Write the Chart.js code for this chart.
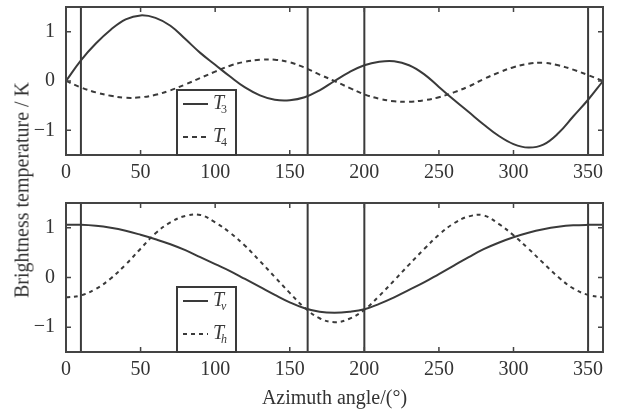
<!DOCTYPE html>
<html>
<head>
<meta charset="utf-8">
<script src="https://cdn.jsdelivr.net/npm/chart.js@4.4.1/dist/chart.umd.min.js"></script>
<style>
  html, body { margin: 0; padding: 0; background: #fff; }
  #wrap { position: relative; width: 618px; height: 415px; overflow: hidden; }
  canvas { position: absolute; left: 0; }
  #topChart { top: 0; }
  #bottomChart { top: 198px; }
  .ytitle {
    position: absolute; left: 22px; top: 190px;
    transform: translate(-50%, -50%) rotate(-90deg);
    font: 20px "Liberation Serif", serif; color: #333; white-space: nowrap;
  }
</style>
</head>
<body>
<div id="wrap">
  <canvas id="topChart" width="618" height="200"></canvas>
  <canvas id="bottomChart" width="618" height="217"></canvas>
  <div class="ytitle">Brightness temperature / K</div>
</div>
<script>
// azimuth angles (deg) used for all series
const angles = [0, 10, 20, 30, 40, 50, 60, 70, 80, 90, 100, 110, 120, 130, 140, 150, 160, 170, 180,
  190, 200, 210, 220, 230, 240, 250, 260, 270, 280, 290, 300, 310, 320, 330, 340, 350, 360];

// top panel
const t3 = [0, 0.42, 0.76, 1.04, 1.25, 1.33, 1.28, 1.12, 0.85, 0.57, 0.33, 0.09, -0.13, -0.29, -0.38, -0.39,
  -0.33, -0.19, 0.0, 0.18, 0.32, 0.39, 0.40, 0.32, 0.14, -0.12, -0.38, -0.63, -0.88, -1.11, -1.28, -1.35,
  -1.29, -1.06, -0.72, -0.38, 0];
const t4 = [0, -0.13, -0.23, -0.30, -0.34, -0.33, -0.28, -0.19, -0.07, 0.06, 0.19, 0.31, 0.39, 0.43, 0.43,
  0.38, 0.27, 0.13, 0.0, -0.14, -0.27, -0.36, -0.41, -0.42, -0.39, -0.33, -0.23, -0.11, 0.04, 0.17, 0.28,
  0.35, 0.37, 0.32, 0.23, 0.12, 0.0];

// bottom panel
const tv = [1.06, 1.06, 1.04, 1.0, 0.94, 0.86, 0.77, 0.67, 0.55, 0.41, 0.27, 0.13, -0.03, -0.19, -0.35,
  -0.50, -0.62, -0.69, -0.71, -0.69, -0.64, -0.53, -0.40, -0.25, -0.10, 0.07, 0.24, 0.41, 0.57, 0.70,
  0.81, 0.90, 0.97, 1.02, 1.05, 1.06, 1.06];
const th = [-0.40, -0.36, -0.23, -0.02, 0.26, 0.58, 0.89, 1.11, 1.24, 1.26, 1.11, 0.90, 0.64, 0.33, 0.01,
  -0.31, -0.61, -0.82, -0.90, -0.83, -0.65, -0.37, -0.06, 0.26, 0.57, 0.86, 1.09, 1.23, 1.25, 1.08, 0.85,
  0.58, 0.29, 0.01, -0.22, -0.35, -0.40];

// vertical reference lines
const markerAngles = [10, 162, 200, 350];

const xTicks = [0, 50, 100, 150, 200, 250, 300, 350];
const yTicks = [-1, 0, 1];
const xRange = [0, 360];
const yRange = [-1.5, 1.5];

const ink = '#3a3a3a';
const serif = '"Liberation Serif", "Times New Roman", serif';

function points(vals) {
  return vals.map((v, i) => ({ x: angles[i], y: v }));
}

// frame, inward ticks (MATLAB style) and boxed legend
const framePlugin = {
  id: 'frame',
  afterDatasetsDraw(chart, args, opts) {
    const { ctx, chartArea: a, scales: { x, y } } = chart;
    ctx.save();
    ctx.strokeStyle = '#444';
    ctx.lineWidth = 1.5;
    const len = 5;
    ctx.beginPath();
    xTicks.forEach(v => {
      const px = x.getPixelForValue(v);
      ctx.moveTo(px, a.bottom); ctx.lineTo(px, a.bottom - len);
      ctx.moveTo(px, a.top); ctx.lineTo(px, a.top + len);
    });
    yTicks.forEach(v => {
      const py = y.getPixelForValue(v);
      ctx.moveTo(a.left, py); ctx.lineTo(a.left + len, py);
      ctx.moveTo(a.right, py); ctx.lineTo(a.right - len, py);
    });
    ctx.stroke();
    ctx.lineWidth = 2;
    ctx.strokeRect(a.left, a.top, a.right - a.left, a.bottom - a.top);

    // legend box
    const bx = a.left + 111, bw = 59, bh = 65, by = a.bottom - bh;
    ctx.fillStyle = '#fff';
    ctx.fillRect(bx, by, bw, bh);
    ctx.strokeStyle = ink;
    ctx.strokeRect(bx, by, bw, bh);
    (opts.entries || []).forEach((e, i) => {
      const ly = by + 14 + i * 33;
      ctx.beginPath();
      ctx.setLineDash(e.dash);
      ctx.lineWidth = 2;
      ctx.moveTo(bx + 6, ly); ctx.lineTo(bx + 31, ly);
      ctx.stroke();
      ctx.setLineDash([]);
      ctx.fillStyle = ink;
      ctx.textBaseline = 'middle';
      ctx.textAlign = 'left';
      ctx.font = 'italic 20px ' + serif;
      ctx.fillText(e.name, bx + 36, ly);
      const w = ctx.measureText(e.name).width;
      ctx.font = (e.subItalic ? 'italic ' : '') + '12px ' + serif;
      ctx.fillText(e.sub, bx + 36 + w - 3, ly + 6);
    });
    ctx.restore();
  }
};

function noEdgePadding(s) {
  s.paddingTop = 0; s.paddingBottom = 0; s.paddingLeft = 0; s.paddingRight = 0;
}

function makeChart(id, series, entries, opt) {
  const datasets = [];
  markerAngles.forEach(m => {
    datasets.push({
      data: [{ x: m, y: yRange[0] }, { x: m, y: yRange[1] }],
      borderColor: ink, borderWidth: 2, pointRadius: 0, tension: 0
    });
  });
  series.forEach(s => {
    datasets.push({
      data: points(s.values),
      borderColor: ink, borderWidth: 2, borderDash: s.dash,
      pointRadius: 0, tension: 0.4, fill: false
    });
  });

  return new Chart(document.getElementById(id), {
    type: 'line',
    data: { datasets },
    plugins: [framePlugin],
    options: {
      responsive: false,
      animation: false,
      devicePixelRatio: 1,
      layout: { padding: { left: 0, right: 15, top: opt.padTop, bottom: 0 } },
      plugins: {
        legend: { display: false },
        tooltip: { enabled: false },
        frame: { entries }
      },
      scales: {
        x: {
          type: 'linear', min: xRange[0], max: xRange[1],
          afterBuildTicks: s => { s.ticks = xTicks.map(v => ({ value: v })); },
          afterFit: s => { s.height = opt.xHeight; noEdgePadding(s); },
          grid: { display: false, drawTicks: false },
          border: { display: false },
          ticks: { color: '#333', font: { family: serif, size: 20 }, padding: 6, maxRotation: 0 },
          title: {
            display: !!opt.xTitle, text: opt.xTitle || '', color: '#333',
            font: { family: serif, size: 20 }, padding: { top: 2, bottom: 4 }
          }
        },
        y: {
          min: yRange[0], max: yRange[1],
          afterBuildTicks: s => { s.ticks = yTicks.map(v => ({ value: v })); },
          afterFit: s => { s.width = 66; noEdgePadding(s); },
          grid: { display: false, drawTicks: false },
          border: { display: false },
          ticks: {
            color: '#333', font: { family: serif, size: 20 }, padding: 11,
            callback: v => (v < 0 ? '\u2212' + Math.abs(v) : String(v))
          }
        }
      }
    }
  });
}

makeChart('topChart',
  [{ values: t3, dash: [] }, { values: t4, dash: [5, 4] }],
  [{ name: 'T', sub: '3', subItalic: false, dash: [] }, { name: 'T', sub: '4', subItalic: false, dash: [5, 4] }],
  { padTop: 7, xHeight: 45 });

makeChart('bottomChart',
  [{ values: tv, dash: [] }, { values: th, dash: [4, 4] }],
  [{ name: 'T', sub: 'v', subItalic: true, dash: [] }, { name: 'T', sub: 'h', subItalic: true, dash: [4, 4] }],
  { padTop: 5, xHeight: 63, xTitle: 'Azimuth angle/(\u00b0)' });
</script>
</body>
</html>
